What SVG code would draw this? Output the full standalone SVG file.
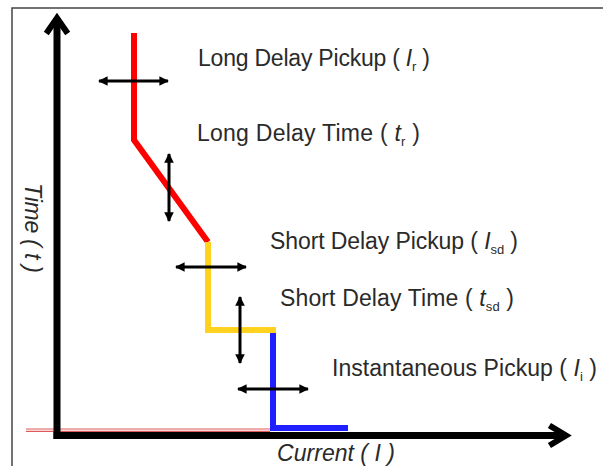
<svg xmlns="http://www.w3.org/2000/svg" width="603" height="466" viewBox="0 0 603 466">
<style>
.lbl{font-family:"Liberation Sans",Arial,sans-serif;font-size:23px;fill:#2a2a2a}
.it{font-style:italic}
.sub{font-size:13px}
.axis{stroke:#000;stroke-width:7;fill:none}
.head{stroke:#000;stroke-width:6;fill:none;stroke-linecap:square;stroke-linejoin:miter}
.adj{stroke:#000;stroke-width:3;fill:none}
.curve{stroke-width:6;fill:none;stroke-linejoin:miter}
</style>
<defs>
<marker id="ah" viewBox="0 0 10 10" refX="9" refY="5" markerWidth="3.2" markerHeight="4" orient="auto-start-reverse" markerUnits="strokeWidth">
<path d="M0,0 L10,5 L0,10 Z" fill="#000"/>
</marker>
</defs>
<rect x="12" y="8" width="620" height="480" fill="none" stroke="#444" stroke-width="1.5"/>
<g id="baseline-ref">
<line x1="26" y1="429" x2="270" y2="429" stroke="#e05a5a" stroke-width="1.2"/>
<line x1="26" y1="431.3" x2="270" y2="431.3" stroke="#e05a5a" stroke-width="1.2"/>
</g>
<g id="axes">
<line class="axis" x1="57" y1="439" x2="57" y2="18"/>
<polyline class="head" points="48,31 57,18 66,31"/>
<line class="axis" x1="53.5" y1="435.5" x2="565" y2="435.5"/>
<polyline class="head" points="552,427 566,435.5 552,444"/>
</g>
<g id="curve">
<polyline class="curve" stroke="#ff0000" points="134,33 134,140 208,242"/>
<polyline class="curve" stroke="#ffd21f" points="208,242 208,330 276,330"/>
<polyline class="curve" stroke="#1f1fff" points="273,333 273,428 348,428"/>
</g>
<g id="connectors">
<line class="adj" x1="99" y1="81" x2="168" y2="81" marker-start="url(#ah)" marker-end="url(#ah)"/>
<line class="adj" x1="169" y1="154" x2="169" y2="221" marker-start="url(#ah)" marker-end="url(#ah)"/>
<line class="adj" x1="176" y1="267" x2="246" y2="267" marker-start="url(#ah)" marker-end="url(#ah)"/>
<line class="adj" x1="240" y1="297" x2="240" y2="363" marker-start="url(#ah)" marker-end="url(#ah)"/>
<line class="adj" x1="238" y1="389" x2="308" y2="389" marker-start="url(#ah)" marker-end="url(#ah)"/>
</g>
<g id="label-ir">
<text class="lbl" x="198" y="66" textLength="232">Long Delay Pickup ( <tspan class="it">I</tspan><tspan class="sub" dy="5">r</tspan><tspan dy="-5"> )</tspan></text>
</g>
<g id="label-tr">
<text class="lbl" x="197" y="141" textLength="223">Long Delay Time ( <tspan class="it">t</tspan><tspan class="sub" dy="5">r</tspan><tspan dy="-5"> )</tspan></text>
</g>
<g id="label-isd">
<text class="lbl" x="270" y="249" textLength="248">Short Delay Pickup ( <tspan class="it">I</tspan><tspan class="sub" dy="5">sd</tspan><tspan dy="-5"> )</tspan></text>
</g>
<g id="label-tsd">
<text class="lbl" x="280" y="306" textLength="234">Short Delay Time ( <tspan class="it">t</tspan><tspan class="sub" dy="5">sd</tspan><tspan dy="-5"> )</tspan></text>
</g>
<g id="label-ii">
<text class="lbl" x="332" y="376" textLength="265">Instantaneous Pickup ( <tspan class="it">I</tspan><tspan class="sub" dy="5">i</tspan><tspan dy="-5"> )</tspan></text>
</g>
<g id="axis-labels">
<text class="lbl it" x="277" y="461" textLength="118">Current ( I )</text>
<text class="lbl it" transform="translate(25,183) rotate(90)" textLength="90">Time ( t )</text>
</g>
</svg>
